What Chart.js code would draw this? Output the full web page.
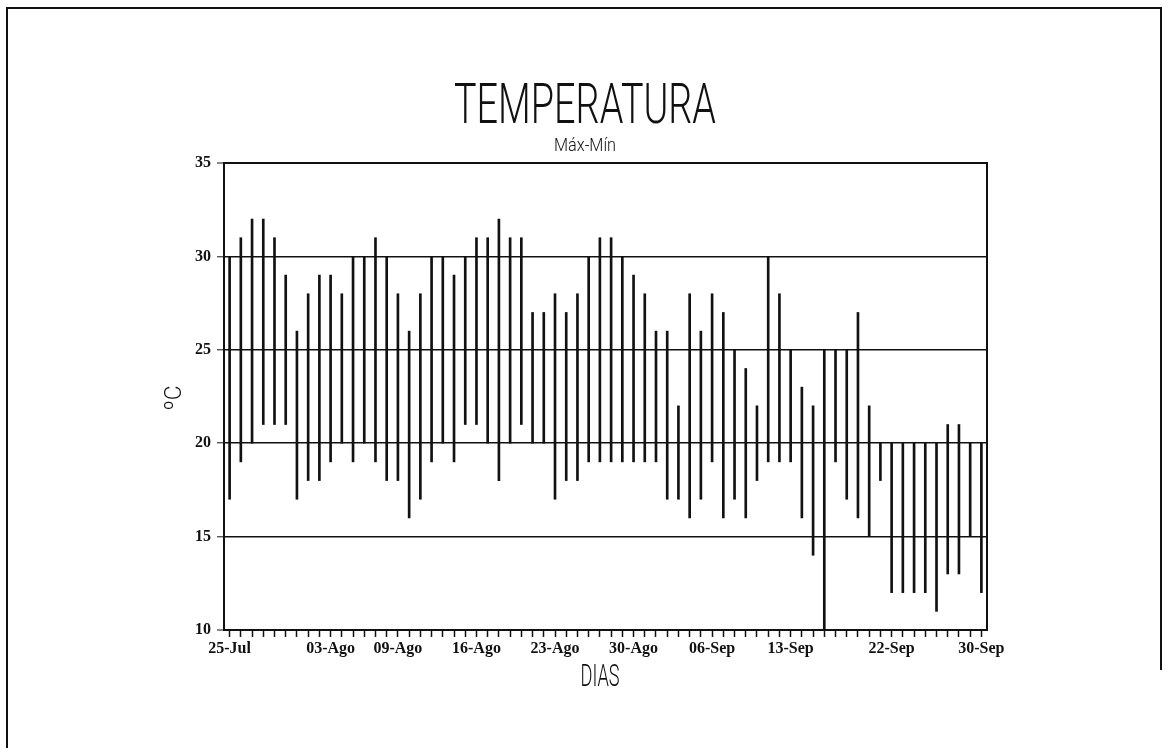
<!DOCTYPE html>
<html>
<head>
<meta charset="utf-8">
<title>TEMPERATURA Máx-Mín</title>
<script src="https://cdn.jsdelivr.net/npm/chart.js@4/dist/chart.umd.min.js"></script>
<style>
  html, body { margin: 0; padding: 0; background: #ffffff; }
  #wrap { position: relative; width: 1168px; height: 756px; }
  canvas { display: block; }
</style>
</head>
<body>
<div id="wrap"><canvas id="chart" width="1168" height="756"></canvas></div>
<script>
// Daily categories, 25 July to 30 September
const days = [
  "25-Jul","26-Jul","27-Jul","28-Jul","29-Jul","30-Jul","31-Jul",
  "01-Ago","02-Ago","03-Ago","04-Ago","05-Ago","06-Ago","07-Ago","08-Ago","09-Ago","10-Ago",
  "11-Ago","12-Ago","13-Ago","14-Ago","15-Ago","16-Ago","17-Ago","18-Ago","19-Ago","20-Ago",
  "21-Ago","22-Ago","23-Ago","24-Ago","25-Ago","26-Ago","27-Ago","28-Ago","29-Ago","30-Ago","31-Ago",
  "01-Sep","02-Sep","03-Sep","04-Sep","05-Sep","06-Sep","07-Sep","08-Sep","09-Sep","10-Sep",
  "11-Sep","12-Sep","13-Sep","14-Sep","15-Sep","16-Sep","17-Sep","18-Sep","19-Sep","20-Sep",
  "21-Sep","22-Sep","23-Sep","24-Sep","25-Sep","26-Sep","27-Sep","28-Sep","29-Sep","30-Sep"
];

// Dates that carry a printed label on the axis
const labeledDays = ["25-Jul","03-Ago","09-Ago","16-Ago","23-Ago","30-Ago","06-Sep","13-Sep","22-Sep","30-Sep"];

// Daily maximum temperature (ºC)
const tempMax = [
  30,31,32,32,31,29,26,28,29,29,
  28,30,30,31,30,28,26,28,30,30,
  29,30,31,31,32,31,31,27,27,28,
  27,28,30,31,31,30,29,28,26,26,
  22,28,26,28,27,25,24,22,30,28,
  25,23,22,25,25,25,27,22,20,20,
  20,20,20,20,21,21,20,20
];

// Daily minimum temperature (ºC)
const tempMin = [
  17,19,20,21,21,21,17,18,18,19,
  20,19,20,19,18,18,16,17,19,20,
  19,21,21,20,18,20,21,20,20,17,
  18,18,19,19,19,19,19,19,19,17,
  17,16,17,19,16,17,16,18,19,19,
  19,16,14,10,19,17,16,15,18,12,
  12,12,12,11,13,13,15,12
];

// Y axis ticks
const yTicks = [10, 15, 20, 25, 30, 35];

const ranges = days.map((d, i) => [tempMin[i], tempMax[i]]);

const INK = '#111111';
const tickFont = { family: '"Liberation Serif", "DejaVu Serif", serif', size: 16, weight: 'bold' };
const THIN = '"Liberation Sans Narrow", "Roboto", "DejaVu Sans", sans-serif';

// Titles, axis captions and the outer frame
const decorations = {
  id: 'decorations',
  afterDraw(chart) {
    const ctx = chart.ctx;
    ctx.save();
    ctx.fillStyle = INK;
    ctx.strokeStyle = INK;

    // outer frame
    ctx.lineWidth = 2;
    ctx.beginPath();
    ctx.moveTo(7, 748);
    ctx.lineTo(7, 8);
    ctx.lineTo(1161, 8);
    ctx.lineTo(1161, 670);
    ctx.stroke();

    // text squeezed or stretched horizontally to a given width
    function fitText(text, font, x, y, width, angle) {
      ctx.font = font;
      const w = ctx.measureText(text).width;
      ctx.save();
      ctx.translate(x, y);
      if (angle) ctx.rotate(angle);
      ctx.scale(width / w, 1);
      ctx.textAlign = 'center';
      ctx.textBaseline = 'alphabetic';
      ctx.fillText(text, 0, 0);
      ctx.restore();
    }

    fitText('TEMPERATURA', '300 56px ' + THIN, 585, 123, 262);
    fitText('Máx-Mín', '300 19px ' + THIN, 585, 151, 62);
    fitText('DIAS', '300 31px ' + THIN, 600, 686, 39);
    // y caption, reading upward
    fitText('ºC', '300 24px ' + THIN, 181, 398, 25, -Math.PI / 2);

    ctx.restore();
  }
};

new Chart(document.getElementById('chart'), {
  type: 'bar',
  data: {
    labels: days,
    datasets: [{
      label: 'Máx-Mín',
      data: ranges,
      backgroundColor: INK,
      borderWidth: 0,
      barThickness: 2,
      borderSkipped: false
    }]
  },
  options: {
    responsive: false,
    animation: false,
    devicePixelRatio: 1,
    layout: { padding: { left: 130, right: 181, top: 163, bottom: 0 } },
    plugins: {
      legend: { display: false },
      title: { display: false },
      tooltip: { enabled: false }
    },
    scales: {
      x: {
        type: 'category',
        offset: true,
        grid: {
          offset: false,
          drawOnChartArea: false,
          drawTicks: true,
          tickLength: 7,
          tickWidth: 1.5,
          tickColor: INK,
          color: INK
        },
        border: { display: true, color: INK, width: 2 },
        ticks: {
          autoSkip: false,
          maxRotation: 0,
          minRotation: 0,
          padding: 2,
          color: INK,
          font: tickFont,
          callback(value) {
            const lab = days[value];
            return labeledDays.includes(lab) ? lab : '';
          }
        },
        afterFit(scale) { scale.height = 126; }
      },
      y: {
        min: 10,
        max: 35,
        afterBuildTicks(scale) { scale.ticks = yTicks.map(v => ({ value: v })); },
        grid: {
          drawOnChartArea: true,
          drawTicks: true,
          tickLength: 7,
          lineWidth: ctx => (ctx.tick && (ctx.tick.value === 10 || ctx.tick.value === 35)) ? 0 : 1.6,
          color: INK,
          tickColor: INK,
          tickWidth: 1
        },
        border: { display: true, color: INK, width: 2 },
        ticks: {
          padding: 6,
          color: INK,
          font: tickFont
        },
        afterFit(scale) { scale.width = 94; }
      },
      // right and top frame of the plot
      y2: {
        position: 'right',
        min: 10,
        max: 35,
        grid: { display: false },
        ticks: { display: false },
        border: { display: true, color: INK, width: 2 },
        afterFit(scale) { scale.width = 0; }
      },
      x2: {
        type: 'category',
        position: 'top',
        labels: days,
        offset: true,
        grid: { display: false },
        ticks: { display: false },
        border: { display: true, color: INK, width: 2 },
        afterFit(scale) { scale.height = 0; }
      }
    }
  },
  plugins: [decorations]
});
</script>
</body>
</html>
